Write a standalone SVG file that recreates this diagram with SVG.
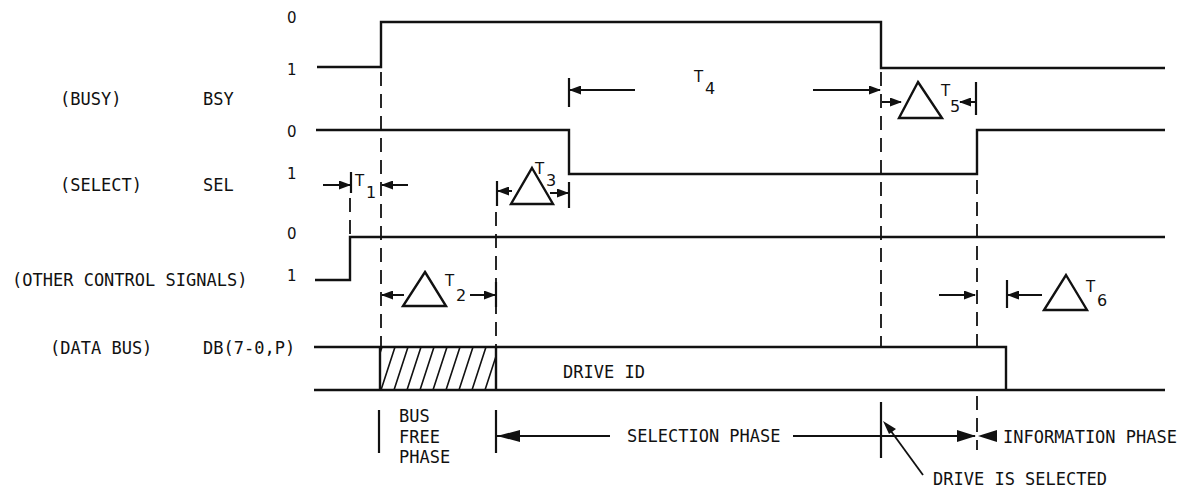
<svg xmlns="http://www.w3.org/2000/svg" width="1185" height="491" viewBox="0 0 1185 491">
<style>
.sig{fill:none;stroke:#111;stroke-width:2.4}
.dash{fill:none;stroke:#111;stroke-width:1.8;stroke-dasharray:14 8}
.bar{fill:none;stroke:#111;stroke-width:2.2}
.arr{fill:none;stroke:#111;stroke-width:2;marker-end:url(#ah)}
.big{fill:none;stroke:#111;stroke-width:1.8}
.tri{fill:#fff;stroke:#111;stroke-width:2.4;stroke-linejoin:miter}
.hatch{stroke:#111;stroke-width:1.6}
text{font-family:"DejaVu Sans Mono","Liberation Mono",monospace;font-size:17px;fill:#111}
.lv{font-family:"DejaVu Sans","Liberation Sans",sans-serif;font-size:15px}
.t{font-family:"DejaVu Sans","Liberation Sans",sans-serif;font-size:15px}
.sub{font-family:"DejaVu Sans","Liberation Sans",sans-serif;font-size:16px}
</style>
<defs>
<marker id="ah" markerUnits="userSpaceOnUse" markerWidth="12" markerHeight="9" refX="11" refY="4.5" orient="auto">
<path d="M0,0 L12,4.5 L0,9 z" fill="#111"/>
</marker>
<clipPath id="hc"><rect x="380" y="347" width="116" height="43"/></clipPath>
</defs>
<rect width="1185" height="491" fill="#fff"/>

<g id="labels">
<text x="60" y="105">(BUSY)</text>
<text x="203" y="105">BSY</text>
<text x="60" y="191">(SELECT)</text>
<text x="203" y="191">SEL</text>
<text x="12" y="286">(OTHER CONTROL SIGNALS)</text>
<text x="50" y="354">(DATA BUS)</text>
<text x="203" y="354">DB(7-0,P)</text>
<text class="lv" x="287" y="23">0</text>
<text class="lv" x="287" y="75">1</text>
<text class="lv" x="287" y="137">0</text>
<text class="lv" x="287" y="179">1</text>
<text class="lv" x="287" y="239">0</text>
<text class="lv" x="287" y="281">1</text>
</g>

<g id="bsy"><path class="sig" d="M317,67 H381 V22 H881 V68 H1165"/></g>
<g id="sel"><path class="sig" d="M316,130 H569 V174 H977 V130 H1165"/></g>
<g id="ctrl"><path class="sig" d="M315,280 H350 V237 H1165"/></g>
<g id="databus">
<path class="sig" d="M314,347 H1006 V390"/>
<path class="sig" d="M314,390 H1165"/>
<path class="sig" d="M380,347 V390 M496,347 V390"/>
<g clip-path="url(#hc)">
<path class="hatch" d="M368,390 L382,347 M381,390 L395,347 M394,390 L408,347 M407,390 L421,347 M420,390 L434,347 M433,390 L447,347 M446,390 L460,347 M459,390 L473,347 M472,390 L486,347 M485,390 L499,347 M498,390 L512,347"/>
</g>
<text x="563" y="378">DRIVE ID</text>
</g>

<g id="connectors">
<path class="dash" d="M381,72 V347"/>
<path class="dash" d="M350,198 V237"/>
<path class="dash" d="M496,212 V347"/>
<path class="dash" d="M881,72 V347"/>
<path class="dash" d="M977,180 V347"/>
<path class="dash" d="M977,396 V450"/>
<path class="bar" d="M351,172 V193"/>
<path class="bar" d="M497,181 V206"/>
<path class="bar" d="M569,182 V208"/>
<path class="bar" d="M569,78 V107"/>
<path class="bar" d="M976,82 V115"/>
<path class="bar" d="M496,282 V307"/>
<path class="bar" d="M1007,280 V308"/>
<path class="bar" d="M379,410 V453"/>
<path class="bar" d="M496,410 V453"/>
<path class="bar" d="M881,402 V458"/>
<line class="arr" x1="323" y1="185" x2="350" y2="185"/>
<line class="arr" x1="408" y1="185" x2="382" y2="185"/>
<line class="arr" x1="404" y1="295" x2="382" y2="295"/>
<line class="arr" x1="470" y1="295" x2="495" y2="295"/>
<line class="arr" x1="512" y1="191" x2="498" y2="191"/>
<line class="arr" x1="550" y1="193" x2="568" y2="193"/>
<line class="arr" x1="635" y1="90" x2="570" y2="90"/>
<line class="arr" x1="813" y1="90" x2="880" y2="90"/>
<line class="arr" x1="882" y1="102" x2="901" y2="102"/>
<line class="arr" x1="975" y1="102" x2="960" y2="102"/>
<line class="arr" x1="939" y1="295" x2="975" y2="295"/>
<line class="arr" x1="1042" y1="295" x2="1008" y2="295"/>
<path class="big" d="M497,436 H610"/>
<path d="M497,436 L520,430 L520,442 z" fill="#111"/>
<path class="big" d="M793,436 H975"/>
<path d="M976,436 L957,430 L957,442 z" fill="#111"/>
<path d="M978,436 L997,430 L997,442 z" fill="#111"/>
<path class="big" d="M923,475 L888,427"/>
<path d="M883,421 L896,429 L889,434 z" fill="#111"/>
</g>

<g id="t1"><text class="t" x="355" y="186">T</text><text class="sub" x="366" y="198">1</text></g>
<g id="t2"><path class="tri" d="M425,272 L446,306 L403,306 z"/><text class="t" x="445" y="286">T</text><text class="sub" x="456" y="301">2</text></g>
<g id="t3"><path class="tri" d="M532,168 L553,204 L511,204 z"/><text class="t" x="535" y="174">T</text><text class="sub" x="546" y="186">3</text></g>
<g id="t4"><text class="t" x="694" y="82">T</text><text class="sub" x="705" y="94">4</text></g>
<g id="t5"><path class="tri" d="M918,82 L942,118 L899,118 z"/><text class="t" x="941" y="96">T</text><text class="sub" x="950" y="112">5</text></g>
<g id="t6"><path class="tri" d="M1066,275 L1087,310 L1044,310 z"/><text class="t" x="1086" y="292">T</text><text class="sub" x="1097" y="306">6</text></g>

<g id="phases">
<text x="399" y="422">BUS</text>
<text x="399" y="443">FREE</text>
<text x="399" y="463">PHASE</text>
<text x="627" y="442">SELECTION PHASE</text>
<text x="1003" y="443">INFORMATION PHASE</text>
<text x="933" y="485">DRIVE IS SELECTED</text>
</g>
</svg>
